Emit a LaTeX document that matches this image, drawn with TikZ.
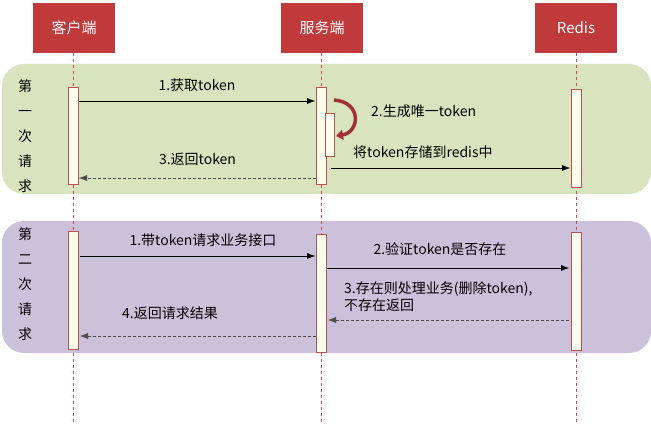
\documentclass[tikz,border=0pt]{standalone}
\usepackage{fontspec}
\setmainfont{Noto Sans CJK SC}
\usetikzlibrary{arrows.meta, positioning}
\definecolor{hdred}{HTML}{C0393B}
\definecolor{lifered}{HTML}{C0504D}
\definecolor{bandgreen}{HTML}{D7E4BD}
\definecolor{bandpurple}{HTML}{CCC1DA}
\definecolor{barfill}{HTML}{FFFFEE}
\tikzset{
  header/.style={draw=none, fill=hdred, text=white, minimum width=82pt, minimum height=50pt, font=\fontsize{15}{18}\selectfont},
  lifeline/.style={draw=lifered, dashed, thin},
  actbar/.style={draw=lifered, fill=barfill},
  band/.style={rounded corners=22pt, draw=none},
  msg/.style={-{Latex[length=8pt,width=6pt]}, black},
  reply/.style={-{Latex[length=8pt,width=6pt]}, densely dashed, black!70},
  lbl/.style={font=\fontsize{14}{17}\selectfont, inner sep=1pt, text=black},
  side/.style={font=\fontsize{14}{17}\selectfont, align=center}
}
\begin{document}
\begin{tikzpicture}[x=1pt,y=-1pt]
  \useasboundingbox (0,0) rectangle (651,425);
  % bands
  \fill[band, bandgreen] (2,64) rectangle (651,194);
  \fill[band, bandpurple] (2,221) rectangle (651,353);
  % headers and lifelines
  \node[header] (client) at (74,28) {客户端};
  \node[header] (server) at (322,28) {服务端};
  \node[header] (redis) at (576,28) {Redis};
  \draw[lifeline] (73,53) -- (73,425);
  \draw[lifeline] (321,53) -- (321,425);
  \draw[lifeline] (576,53) -- (576,425);
  % first round
  \node[side] (first) at (25,136) {第\\[8pt]一\\[8pt]次\\[8pt]请\\[8pt]求};
  \draw[actbar] (68,87) rectangle (78,184);
  \draw[actbar] (316,87) rectangle (326,184);
  \draw[actbar] (325,113) rectangle (334,156);
  \draw[actbar] (571,89) rectangle (581,187);
  \draw[msg] (79,101) -- (315,101) node[lbl, midway, above=8pt] {1.获取token};
  \draw[hdred!85!black, line width=3.5pt, -{Triangle[length=7pt,width=10pt]}]
    (334,100) .. controls (362,102) and (360,132) .. (336,136);
  \node[lbl, right] (gen) at (370,111) {2.生成唯一token};
  \node[lbl, right] (store) at (352,152) {将token存储到redis中};
  \draw[msg] (331,168) -- (570,168);
  \draw[reply] (316,178) -- (79,178) node[lbl, midway, above=11pt] {3.返回token};
  % second round
  \node[side] (second) at (25,284) {第\\[8pt]二\\[8pt]次\\[8pt]请\\[8pt]求};
  \draw[actbar] (68,231) rectangle (78,349);
  \draw[actbar] (316,234) rectangle (326,352);
  \draw[actbar] (571,232) rectangle (581,350);
  \draw[msg] (80,256) -- (315,256);
  \node[lbl] (ask) at (203,240) {1.带token请求业务接口};
  \draw[msg] (327,268) -- (569,268);
  \node[lbl] (check) at (440,249) {2.验证token是否存在};
  \draw[reply] (569,320) -- (328,320);
  \node[lbl, align=left, anchor=west] (handle) at (343,297) {3.存在则处理业务(删除token),\\不存在返回};
  \draw[reply] (316,336) -- (80,336);
  \node[lbl] (result) at (170,313) {4.返回请求结果};
\end{tikzpicture}
\end{document}
